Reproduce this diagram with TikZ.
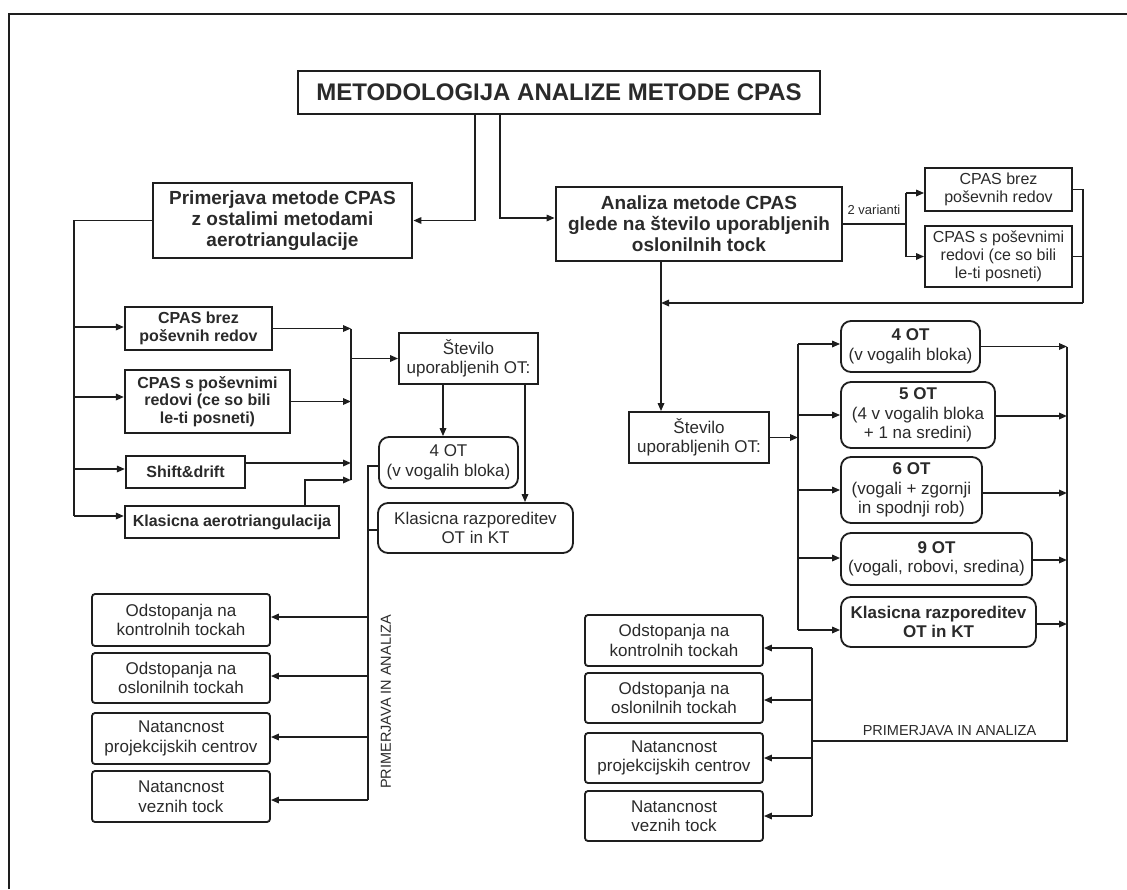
\documentclass[tikz,border=0pt]{standalone}
\usepackage{fontspec}
\setmainfont{Liberation Sans}
\usetikzlibrary{arrows.meta}

\definecolor{ink}{HTML}{1E1E1E}
\definecolor{txt}{HTML}{2A2A2A}

% font presets (sizes given in pt; one pt is one pixel of the page)
\newcommand\fTitle{\bfseries\fontsize{24}{28}\selectfont}
\newcommand\fHead{\bfseries\fontsize{19}{21}\selectfont}
\newcommand\fBoldS{\bfseries\fontsize{16}{17.7}\selectfont}
\newcommand\fBody{\fontsize{17}{19.5}\selectfont}
\newcommand\fBodyS{\fontsize{16}{18}\selectfont}
\newcommand\fBoldR{\bfseries\fontsize{17}{19.5}\selectfont}
\newcommand\fSmall{\fontsize{14.5}{17}\selectfont}
\newcommand\fTiny{\fontsize{13}{15}\selectfont}

\tikzset{
  sz/.style n args={2}{minimum width=#1pt, minimum height=#2pt},
  basebox/.style={draw=ink, inner sep=0pt, align=center, text=txt},
  heavybox/.style={basebox, line width=2.8pt},
  boldbox/.style={basebox, line width=2.2pt, font=\fBoldS},
  plainbox/.style={basebox, line width=1.8pt, font=\fBody},
  softbox/.style={plainbox, rounded corners=3pt},
  roundbox/.style={plainbox, rounded corners=10pt},
  conn/.style={draw=ink, line width=1.6pt},
  arr/.style={conn, -{Triangle[length=8pt,width=6.5pt]}},
  tag/.style={inner sep=0pt, text=txt},
}

\begin{document}
\begin{tikzpicture}[x=1pt,y=-1pt]
\useasboundingbox (0,0) rectangle (1127,889);

% page frame (top and left edges)
\draw[ink, line width=2.2pt] (9,889) -- (9,14) -- (1127,14);

% ---------- main boxes ----------
\node[heavybox, sz={522}{43}, font=\fTitle] (title) at (559,92.5) {METODOLOGIJA ANALIZE METODE CPAS};
\node[heavybox, sz={259}{75}, font=\fHead] (prim) at (282.5,220.5)
  {Primerjava metode CPAS\\z ostalimi metodami\\aerotriangulacije};
\node[heavybox, sz={286}{74}, font=\fHead] (anal) at (699,224)
  {Analiza metode CPAS\\glede na število uporabljenih\\oslonilnih tock};

% ---------- variants (top right) ----------
\node[plainbox, sz={147}{43}, font=\fBodyS] (varA) at (998.5,189.5) {CPAS brez\\poševnih redov};
\node[plainbox, sz={147}{61}, font=\fBodyS] (varB) at (998.5,256.5) {CPAS s poševnimi\\redovi (ce so bili\\le-ti posneti)};
\node[tag, font=\fTiny] (lbl2) at (874,210) {2 varianti};

% ---------- left branch ----------
\node[boldbox, sz={147}{43}] (L1) at (198.5,328.5) {CPAS brez\\poševnih redov};
\node[boldbox, sz={165}{63}] (L2) at (207.5,401.5) {CPAS s poševnimi\\redovi (ce so bili\\le-ti posneti)};
\node[boldbox, sz={119}{32}] (L3) at (185.5,472) {Shift\&drift};
\node[boldbox, sz={214}{32}] (L4) at (232,522) {Klasicna aerotriangulacija};

\node[plainbox, sz={139}{51}] (stev1) at (468.5,358.5) {Število\\uporabljenih OT:};
\node[roundbox, sz={139}{51}] (ota) at (448.5,462.5) {4 OT\\(v vogalih bloka)};
\node[roundbox, sz={195}{50}] (kra) at (475.5,528) {Klasicna razporeditev\\OT in KT};

\node[softbox, sz={178}{52}] (b1) at (181,620) {Odstopanja na\\kontrolnih tockah};
\node[softbox, sz={178}{50}] (b2) at (181,678) {Odstopanja na\\oslonilnih tockah};
\node[softbox, sz={178}{51}] (b3) at (181,738.5) {Natancnost\\projekcijskih centrov};
\node[softbox, sz={178}{51}] (b4) at (181,796.5) {Natancnost\\veznih tock};
\node[tag, font=\fSmall, rotate=90] (lblL) at (386,702) {PRIMERJAVA IN ANALIZA};

% ---------- right branch ----------
\node[plainbox, sz={140}{51}] (stev2) at (699,437.5) {Število\\uporabljenih OT:};
\node[roundbox, sz={139}{51}] (r1) at (910.5,346.5) {{\fBoldR 4 OT}\\(v vogalih bloka)};
\node[roundbox, sz={154}{66}] (r2) at (918,415) {{\fBoldR 5 OT}\\(4 v vogalih bloka\\+ 1 na sredini)};
\node[roundbox, sz={141}{66}] (r3) at (911.5,490) {{\fBoldR 6 OT}\\(vogali + zgornji\\in spodnji rob)};
\node[roundbox, sz={191}{52}] (r4) at (936.5,559) {{\fBoldR 9 OT}\\(vogali, robovi, sredina)};
\node[roundbox, sz={195}{50}, font=\fBoldR] (r5) at (938.5,622) {Klasicna razporeditev\\OT in KT};

\node[softbox, sz={178}{51}] (br1) at (674,640.5) {Odstopanja na\\kontrolnih tockah};
\node[softbox, sz={178}{50}] (br2) at (674,698) {Odstopanja na\\oslonilnih tockah};
\node[softbox, sz={178}{50}] (br3) at (674,758) {Natancnost\\projekcijskih centrov};
\node[softbox, sz={178}{50}] (br4) at (674,816) {Natancnost\\veznih tock};
\node[tag, font=\fSmall] (lblR) at (949.5,731) {PRIMERJAVA IN ANALIZA};

% ---------- bus positions ----------
\coordinate (lbx) at (74,0);     % left feeder
\coordinate (cbx) at (351,0);    % left collector
\coordinate (cbbot) at (351,480);
\coordinate (lb2) at (368,0);    % left results feeder
\coordinate (vx) at (906,0);     % variants split
\coordinate (rx) at (1083,303);  % variants return
\coordinate (dx) at (661,0);     % down to right counter box
\coordinate (dbx) at (798,0);    % right distributor
\coordinate (cbr) at (1067,0);   % right collector
\coordinate (bx2) at (812,741);  % right results feeder

% ---------- title to branches ----------
\draw[arr] ([xshift=-84pt]title.south) |- (prim.east);
\draw[arr] ([xshift=-59pt]title.south) |- ([yshift=6pt]anal.west);

% ---------- left feeder ----------
\draw[conn] (prim.west) -| ([yshift=6pt]L4.west -| lbx);
\draw[arr] ([yshift=1.5pt]L1.west -| lbx) -- ([yshift=1.5pt]L1.west);
\draw[arr] ([yshift=4.5pt]L2.west -| lbx) -- ([yshift=4.5pt]L2.west);
\draw[arr] ([yshift=3pt]L3.west -| lbx) -- ([yshift=3pt]L3.west);
\draw[arr] ([yshift=6pt]L4.west -| lbx) -- ([yshift=6pt]L4.west);

% ---------- left collector ----------
\draw[conn] (L1.east -| cbx) -- (cbbot);
\draw[arr] (L1.east) -- (L1.east -| cbx);
\draw[arr] (L2.east) -- (L2.east -| cbx);
\draw[arr] ([yshift=9pt]L3.east) -- ([yshift=9pt]L3.east -| cbx);
\draw[arr] ([xshift=73pt]L4.north) |- (cbbot);
\draw[arr] (stev1.west -| cbx) -- (stev1.west);

\draw[arr] ([xshift=-25.5pt]stev1.south) -- ([xshift=-25.5pt]stev1.south |- ota.north);
\draw[arr] ([xshift=56.5pt]stev1.south) -- ([xshift=56.5pt]stev1.south |- kra.north);

% ---------- left results ----------
\draw[conn] ([yshift=-3.5pt]ota.west) -| ([yshift=-3.5pt]b4.east -| lb2);
\draw[conn] ([yshift=-2pt]kra.west) -- ([yshift=-2pt]kra.west -| lb2);
\draw[arr] ([yshift=3pt]b1.east -| lb2) -- ([yshift=3pt]b1.east);
\draw[arr] ([yshift=2pt]b2.east -| lb2) -- ([yshift=2pt]b2.east);
\draw[arr] ([yshift=1.5pt]b3.east -| lb2) -- ([yshift=1.5pt]b3.east);
\draw[arr] ([yshift=-3.5pt]b4.east -| lb2) -- ([yshift=-3.5pt]b4.east);

% ---------- variants ----------
\draw[conn] (anal.east) -- (anal.east -| vx);
\draw[conn] ([yshift=-3.5pt]varA.west -| vx) -- (varB.west -| vx);
\draw[arr] ([yshift=-3.5pt]varA.west -| vx) -- ([yshift=-3.5pt]varA.west);
\draw[arr] (varB.west -| vx) -- (varB.west);
\draw[conn] (varA.east) -| (rx);
\draw[conn] (varB.east) -- (varB.east -| rx);
\draw[arr] (rx) -- (dx |- rx);
\draw[arr] ([xshift=-38pt]anal.south) -- (dx |- stev2.north);

% ---------- right distributor ----------
\draw[arr] (stev2.east) -- (stev2.east -| dbx);
\draw[conn] ([yshift=2.5pt]r1.west -| dbx) -- ([yshift=-8pt]r5.west -| dbx);
\draw[arr] ([yshift=2.5pt]r1.west -| dbx) -- ([yshift=2.5pt]r1.west);
\draw[arr] (r2.west -| dbx) -- (r2.west);
\draw[arr] (r3.west -| dbx) -- (r3.west);
\draw[arr] ([yshift=1pt]r4.west -| dbx) -- ([yshift=1pt]r4.west);
\draw[arr] ([yshift=-8pt]r5.west -| dbx) -- ([yshift=-8pt]r5.west);

% ---------- right collector ----------
\draw[arr] (r1.east) -- (r1.east -| cbr);
\draw[arr] ([yshift=-1pt]r2.east) -- ([yshift=-1pt]r2.east -| cbr);
\draw[arr] ([yshift=-3pt]r3.east) -- ([yshift=-3pt]r3.east -| cbr);
\draw[arr] ([yshift=-1pt]r4.east) -- ([yshift=-1pt]r4.east -| cbr);
\draw[arr] ([yshift=-2pt]r5.east) -- ([yshift=-2pt]r5.east -| cbr);
\draw[conn] (r1.east -| cbr) |- (bx2);

% ---------- right results ----------
\draw[conn] ([yshift=-7.5pt]br1.east -| bx2) -- (br4.east -| bx2);
\draw[arr] ([yshift=-7.5pt]br1.east -| bx2) -- ([yshift=-7.5pt]br1.east);
\draw[arr] ([yshift=-2pt]br2.east -| bx2) -- ([yshift=-2pt]br2.east);
\draw[arr] (br3.east -| bx2) -- (br3.east);
\draw[arr] (br4.east -| bx2) -- (br4.east);

\end{tikzpicture}
\end{document}
